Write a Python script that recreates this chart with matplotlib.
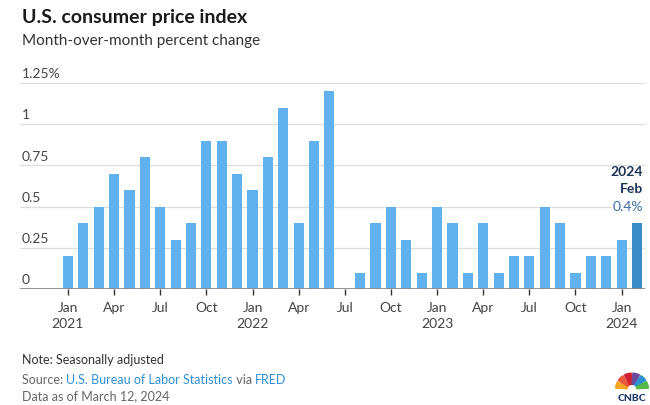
import matplotlib
matplotlib.use("Agg")
import matplotlib.pyplot as plt
from matplotlib.patches import Wedge
import numpy as np

months = ["Jan", "Feb", "Mar", "Apr", "May", "Jun", "Jul", "Aug", "Sep", "Oct", "Nov", "Dec"]
years = [2021, 2022, 2023, 2024]
values = [0.2, 0.4, 0.5, 0.7, 0.6, 0.8, 0.5, 0.3, 0.4, 0.9, 0.9, 0.7,
          0.6, 0.8, 1.1, 0.4, 0.9, 1.2, 0.0, 0.1, 0.4, 0.5, 0.3, 0.1,
          0.5, 0.4, 0.1, 0.4, 0.1, 0.2, 0.2, 0.5, 0.4, 0.1, 0.2, 0.2,
          0.3, 0.4]
ytick_vals = [0, 0.25, 0.5, 0.75, 1, 1.25]
ytick_labels = ["0", "0.25", "0.5", "0.75", "1", "1.25%"]

FONT = "Lato"
plt.rcParams["font.family"] = [FONT, "DejaVu Sans"]

BAR = "#62b1ef"
HIGHLIGHT = "#3a8cc8"
GRID = "#dddddd"
TXT = "#444444"

fig = plt.figure(figsize=(6.5, 4.05), dpi=100)
ax = fig.add_axes([20/650, 1-289/405, 625/650, (289-83)/405])

n = len(values)
x = np.arange(n)
colors = [BAR] * (n - 1) + [HIGHLIGHT]
ax.bar(x, values, width=0.66, color=colors, zorder=2)

ax.set_ylim(0, 1.25)
ax.set_xlim(-3.12, 37.52)
for v in ytick_vals:
    if v == 0:
        ax.axhline(v, color="#8a8a8a", lw=1.3, zorder=3)
    else:
        ax.axhline(v, color=GRID, lw=0.9, zorder=1)
ax.set_yticks([])
for v, lab in zip(ytick_vals, ytick_labels):
    ax.annotate(lab, xy=(0, v), xycoords=("axes fraction", "data"),
                xytext=(1.5, 2), textcoords="offset points",
                ha="left", va="bottom", fontsize=10, color=TXT)

tick_pos = [i for i in range(n) if i % 3 == 0]
tick_labels = []
for i in tick_pos:
    m = months[i % 12]
    if m == "Jan":
        tick_labels.append(f"{m}\n{years[i // 12]}")
    else:
        tick_labels.append(m)
ax.set_xticks(tick_pos)
ax.set_xticklabels(tick_labels, fontsize=10, color=TXT, linespacing=1.45)
ax.tick_params(axis="x", length=4, width=1, color="#333333", pad=5)
for s in ax.spines.values():
    s.set_visible(False)

# annotation for last bar
last = n - 1
xr = last + 0.4
ax.text(xr, 0.71, str(years[-1]), ha="right", va="center", fontsize=10,
        fontweight="bold", color="#1d3557", zorder=5)
ax.text(xr, 0.607, months[last % 12], ha="right", va="center", fontsize=10,
        fontweight="bold", color="#1d3557", zorder=5)
ax.text(xr, 0.5, f"{values[last]}%", ha="right", va="center", fontsize=10,
        color="#3a6ea5", zorder=5,
        bbox=dict(boxstyle="square,pad=0.15", fc="white", ec="none"))

# titles
fig.text(22/650, 1-17/405, "U.S. consumer price index", fontsize=14, fontweight="bold",
         color="#1a1a1a", va="center", ha="left")
fig.text(22/650, 1-41/405, "Month-over-month percent change", fontsize=11,
         color="#333333", va="center", ha="left")

# footer
FS = 9
fig.text(22/650, 1-360/405, "Note: Seasonally adjusted", fontsize=FS, color="#333333", va="center")
t1 = fig.text(22/650, 1-380/405, "Source: ", fontsize=FS, color="#666666", va="center")
fig.canvas.draw()
r = fig.canvas.get_renderer()
def nxt(t, s, c):
    bb = t.get_window_extent(renderer=r)
    return fig.text(bb.x1 / fig.bbox.width, t.get_position()[1], s, fontsize=FS, color=c, va="center")
t2 = nxt(t1, "U.S. Bureau of Labor Statistics", "#2f8fd8")
t3 = nxt(t2, " via ", "#666666")
t4 = nxt(t3, "FRED", "#2f8fd8")
fig.text(22/650, 1-396/405, "Data as of March 12, 2024", fontsize=FS, color="#666666", va="center")

# CNBC logo (approximation)
lax = fig.add_axes([614/650, 1/405, 36/650, 34/405])
lax.set_xlim(-1.1, 1.1); lax.set_ylim(-1.1, 1.05); lax.axis("off")
peacock = ["#f5a623", "#e8583b", "#d0202f", "#6b4a9c", "#2c8fd0", "#56b948"]
for k, c in enumerate(peacock):
    a0 = 180 - k * 30
    lax.add_patch(Wedge((0, -0.15), 1.0, a0 - 27, a0 - 3, width=0.7, color=c))
lax.text(0, -0.78, "CNBC", ha="center", va="center", fontsize=7.5, fontweight="black", color="#1d3a6c")

fig.savefig("out.png", dpi=100)
